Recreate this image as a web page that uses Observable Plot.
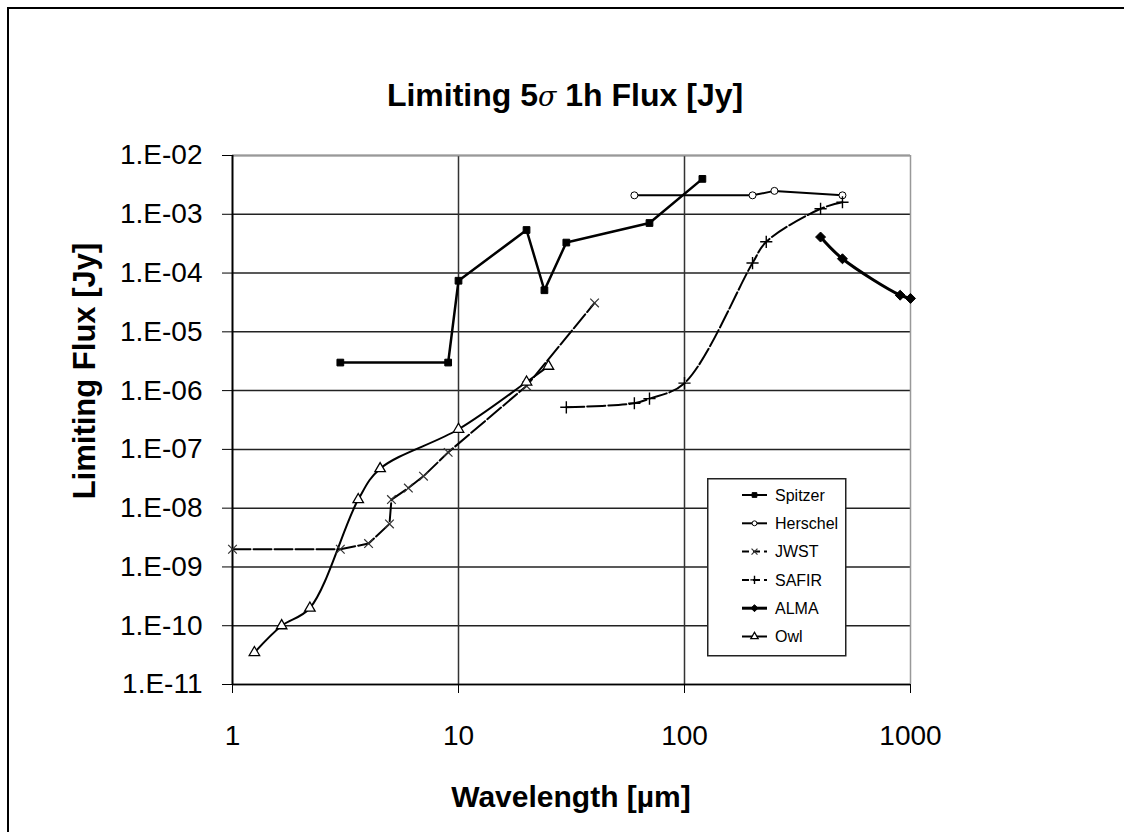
<!DOCTYPE html>
<html>
<head>
<meta charset="utf-8">
<script src="https://cdn.jsdelivr.net/npm/d3@7"></script>
<script src="https://cdn.jsdelivr.net/npm/@observablehq/plot@0.6"></script>
<style>
  html, body { margin: 0; padding: 0; background: white; }
  #wrap { position: relative; width: 1124px; height: 832px; overflow: hidden; background: white; font-family: "Liberation Sans", Arial, sans-serif; }
  #frame { position: absolute; left: 7px; top: 7px; width: 1200px; height: 900px; border-left: 2px solid #000; border-top: 2px solid #000; box-sizing: border-box; pointer-events: none; }
  #chart { position: absolute; left: 0; top: 0; }
  .t { position: absolute; font-weight: bold; color: #000; white-space: nowrap; }
  #title { left: 0; width: 1130px; text-align: center; top: 77px; font-size: 32px; }
  #xtitle { left: 232px; width: 678px; text-align: center; top: 780px; font-size: 30px; }
  #ytitle { left: 85px; top: 371px; font-size: 31px; transform: translate(-50%, -50%) rotate(-90deg); }
  #legend { position: absolute; left: 707px; top: 478px; }
</style>
</head>
<body>
<div id="wrap">
  <div id="chart"></div>
  <div id="frame"></div>
  <div class="t" id="title">Limiting 5<span style="font-weight:normal;font-style:italic;font-family:'DejaVu Serif',serif;font-size:27px">σ</span> 1h Flux [Jy]</div>
  <div class="t" id="xtitle">Wavelength [µm]</div>
  <div class="t" id="ytitle">Limiting Flux [Jy]</div>
  <div id="legend"></div>
</div>
<script>
// ---- data ----
const seriesNames = ["Spitzer", "Herschel", "JWST", "SAFIR", "ALMA", "Owl"];

const spitzerX = [3, 9, 10, 20, 24, 30, 70, 120];
const spitzerY = [3.0e-6, 3.0e-6, 7.4e-5, 5.4e-4, 5.1e-5, 3.3e-4, 7.1e-4, 4.0e-3];

const herschelX = [60, 200, 250, 500];
const herschelY = [2.1e-3, 2.1e-3, 2.5e-3, 2.1e-3];

const jwstX = [1, 3, 4, 4.95, 5.05, 6, 7, 9, 20, 40];
const jwstY = [2.0e-9, 2.0e-9, 2.5e-9, 5.4e-9, 1.4e-8, 2.2e-8, 3.5e-8, 8.9e-8, 1.2e-6, 3.1e-5];

const safirX = [30, 60, 70, 100, 200, 230, 400, 500];
const safirY = [5.2e-7, 6.1e-7, 7.3e-7, 1.34e-6, 1.48e-4, 3.4e-4, 1.24e-3, 1.6e-3];

const almaX = [400, 500, 900, 1000];
const almaY = [4.1e-4, 1.75e-4, 4.2e-5, 3.7e-5];

const owlX = [1.25, 1.65, 2.2, 3.6, 4.5, 10, 20, 25];
const owlY = [3.5e-11, 1.0e-10, 2.0e-10, 1.4e-8, 4.7e-8, 2.2e-7, 1.4e-6, 2.6e-6];

const xTicks = [1, 10, 100, 1000];
const yTicks = [1e-11, 1e-10, 1e-9, 1e-8, 1e-7, 1e-6, 1e-5, 1e-4, 1e-3, 1e-2];
const yTickLabels = ["1.E-11", "1.E-10", "1.E-09", "1.E-08", "1.E-07", "1.E-06", "1.E-05", "1.E-04", "1.E-03", "1.E-02"];

// ---- styles per series ----
const styles = {
  Spitzer:  {strokeWidth: 2.5, dash: null, curve: "linear", symbol: "square", r: 3.8, fill: "black", stroke: "black", sw: 1},
  Herschel: {strokeWidth: 2, dash: null, curve: "linear", symbol: "circle", r: 3.5, fill: "white", stroke: "black", sw: 1},
  JWST:     {strokeWidth: 2, dash: "18,3", curve: "linear", symbol: "times", r: 4, fill: "none", stroke: "#333", sw: 1.2},
  SAFIR:    {strokeWidth: 2, dash: "18,3", curve: "catmull-rom", symbol: "plus", r: 4, fill: "none", stroke: "black", sw: 1.4},
  ALMA:     {strokeWidth: 3, dash: null, curve: "catmull-rom", symbol: "diamond2", r: 4.5, fill: "black", stroke: "black", sw: 1},
  Owl:      {strokeWidth: 2, dash: null, curve: "catmull-rom", symbol: "triangle2", r: 5, fill: "white", stroke: "black", sw: 1.3}
};

const seriesData = {
  Spitzer: spitzerX.map((x, i) => ({x, y: spitzerY[i]})),
  Herschel: herschelX.map((x, i) => ({x, y: herschelY[i]})),
  JWST: jwstX.map((x, i) => ({x, y: jwstY[i]})),
  SAFIR: safirX.map((x, i) => ({x, y: safirY[i]})),
  ALMA: almaX.map((x, i) => ({x, y: almaY[i]})),
  Owl: owlX.map((x, i) => ({x, y: owlY[i]}))
};

const lineMarks = [];
const dotMarks = [];
for (const name of seriesNames) {
  const s = styles[name];
  lineMarks.push(Plot.line(seriesData[name], {
    x: "x", y: "y", stroke: "black", strokeWidth: s.strokeWidth,
    strokeDasharray: s.dash || undefined, curve: s.curve, strokeLinejoin: "miter"
  }));
  dotMarks.push(Plot.dot(seriesData[name], {
    x: "x", y: "y", symbol: () => s.symbol, r: s.r, fill: s.fill, stroke: s.stroke, strokeWidth: s.sw
  }));
}

const chart = Plot.plot({
  width: 1124,
  height: 832,
  marginLeft: 232,
  marginRight: 214,
  marginTop: 155,
  marginBottom: 148,
  x: {type: "log", domain: [1, 1000]},
  y: {type: "log", domain: [1e-11, 1e-2]},
  symbol: {type: "identity"},
  style: {fontFamily: "'Liberation Sans', Arial, sans-serif", fontSize: "28px", color: "black", background: "transparent", overflow: "visible"},
  marks: [
    Plot.ruleY(yTicks, {stroke: "#222", strokeWidth: 1.5}),
    Plot.ruleX([10, 100], {stroke: "#333", strokeWidth: 1.5}),
    Plot.ruleX([1000], {stroke: "#999", strokeWidth: 1.5}),
    Plot.ruleY([1e-2], {stroke: "#999", strokeWidth: 1.5}),
    Plot.ruleX([1], {stroke: "black", strokeWidth: 2}),
    Plot.ruleY([1e-11], {stroke: "black", strokeWidth: 1.5}),
    Plot.axisX({ticks: xTicks, tickFormat: d => String(d), tickSize: 9, tickPadding: 32, label: null, fontSize: 28, stroke: "black"}),
    Plot.axisY({ticks: yTicks, tickFormat: d => yTickLabels[yTicks.indexOf(d)], tickSize: 10, tickPadding: 20, label: null, fontSize: 28, stroke: "black"}),
    ...lineMarks,
    ...dotMarks
  ]
});
document.getElementById("chart").appendChild(chart);

// ---- legend (HTML/SVG overlay) ----
const lw = 138, lh = 177;
const lsvg = d3.create("svg").attr("width", lw + 2).attr("height", lh + 2)
  .style("font-family", "'Liberation Sans', Arial, sans-serif");
lsvg.append("rect").attr("x", 0.75).attr("y", 0.75).attr("width", lw).attr("height", lh)
  .attr("fill", "white").attr("stroke", "#222").attr("stroke-width", 1.5);
const symMap = {
  square: d3.symbolSquare, circle: d3.symbolCircle, times: d3.symbolTimes,
  plus: d3.symbolPlus, diamond2: d3.symbolDiamond2, triangle2: d3.symbolTriangle2
};
seriesNames.forEach((name, i) => {
  const s = styles[name];
  const cy = 17 + i * 28.3;
  const g = lsvg.append("g");
  g.append("line").attr("x1", 35).attr("x2", 60).attr("y1", cy).attr("y2", cy)
    .attr("stroke", "black").attr("stroke-width", name === "ALMA" ? 3 : 2)
    .attr("stroke-dasharray", s.dash ? "7,4" : null);
  const area = Math.PI * (s.r * 0.7) ** 2;
  g.append("path").attr("d", d3.symbol(symMap[s.symbol], area)())
    .attr("transform", `translate(47.5,${cy})`)
    .attr("fill", s.fill).attr("stroke", s.stroke).attr("stroke-width", s.sw);
  g.append("text").attr("x", 68).attr("y", cy).attr("dy", "0.35em")
    .attr("font-size", 16).attr("fill", "black").text(name);
});
document.getElementById("legend").appendChild(lsvg.node());
</script>
</body>
</html>
